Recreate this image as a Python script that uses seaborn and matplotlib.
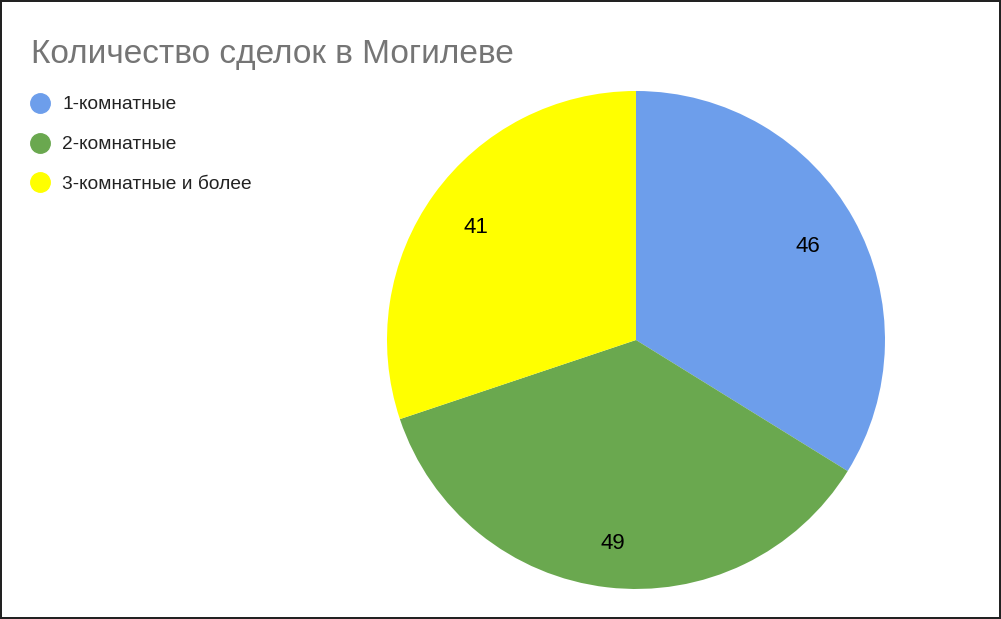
import matplotlib
matplotlib.use("Agg")
import matplotlib.pyplot as plt
import seaborn as sns
from matplotlib.lines import Line2D

sns.set_theme(style="white")
plt.rcParams['font.family'] = ['Liberation Sans', 'DejaVu Sans']

title = "Количество сделок в Могилеве"
categories = ["1-комнатные", "2-комнатные", "3-комнатные и более"]
values = [46, 49, 41]
colors = ["#6D9EEB", "#6AA84F", "#FFFF00"]

fig = plt.figure(figsize=(10.01, 6.19), dpi=100, linewidth=1.5, edgecolor="#222222")
ax = fig.add_axes([0.3866, 0.0485, 0.4975, 0.8045])
wedges, texts = ax.pie(values, labels=[str(v) for v in values], colors=colors,
                       startangle=90, counterclock=False, labeldistance=0.79,
                       wedgeprops=dict(linewidth=0),
                       textprops=dict(fontsize=16, color="black"))
for t in texts:
    t.set_ha("center")
    t.set_va("center")
    x, y = t.get_position()
    if y < -0.5:
        x, y = x * 1.03, y * 1.03
    t.set_position((x, y - 0.01))
ax.set_xlim(-1, 1)
ax.set_ylim(-1, 1)
ax.set_aspect("equal")
ax.axis("off")

fig.text(31/1001, 1 - 63/619, title, fontsize=24, color="#757575", ha="left", va="baseline")

handles = [Line2D([0], [0], marker="o", linestyle="", markersize=14, markerfacecolor=c,
                  markeredgecolor=c) for c in colors]
fig.legend(handles, categories, loc="upper left", bbox_to_anchor=(28.5/1001, 1 - 96/619),
           frameon=False, fontsize=13.8, handletextpad=0.55, labelspacing=1.17,
           handlelength=1.2, borderaxespad=0, borderpad=0, labelcolor="#222222")

fig.savefig("out.png", dpi=100)
